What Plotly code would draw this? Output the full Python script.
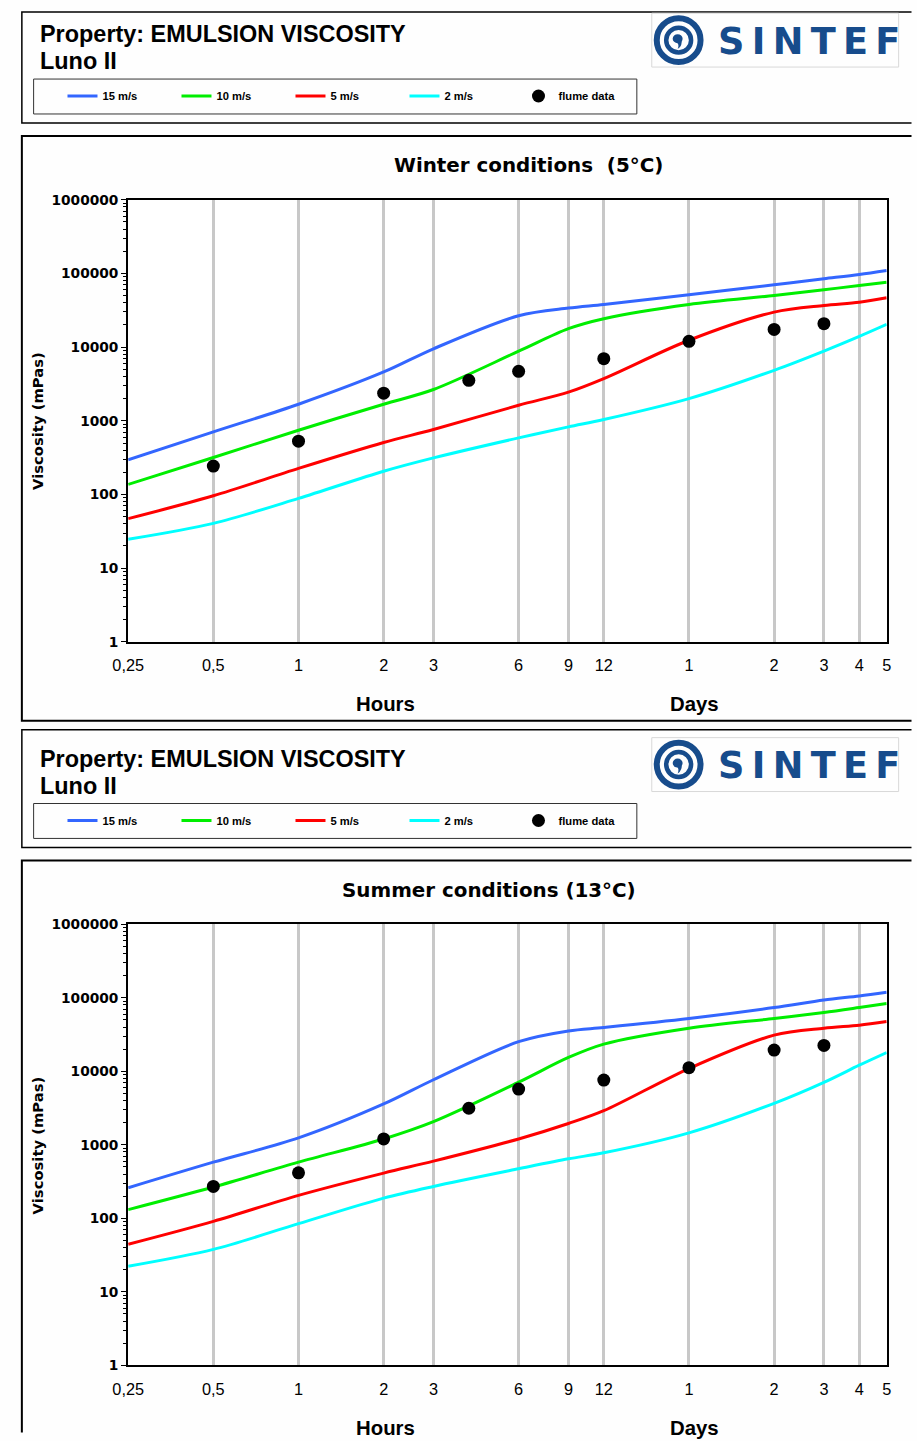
import plotly.graph_objects as go

W, H = 917, 1441

# ---------------- data ----------------
hours = [0.25, 0.5, 1, 2, 3, 6, 9, 12, 24, 48, 72, 96, 120]
flume_hours = [0.5, 1, 2, 4, 6, 12, 24, 48, 72]

winter_15 = [295, 707, 1680, 4600, 9500, 26700, 33900, 38000, 51400, 70300, 84800, 96900, 110000]
winter_10 = [137, 318, 746, 1680, 2660, 8800, 17800, 24300, 38000, 50300, 60100, 68700, 76200]
winter_5 = [47, 96, 226, 508, 762, 1627, 2450, 3740, 12400, 29900, 36800, 40800, 46900]
winter_2 = [24.7, 40.6, 88.5, 207, 314, 587, 827, 1040, 2000, 4850, 8850, 14000, 20400]
winter_flume = [243, 529, 2370, 3550, 4700, 6980, 12000, 17400, 20800]

summer_15 = [260, 580, 1240, 3590, 7670, 25300, 35400, 39400, 52200, 73600, 93300, 106000, 119000]
summer_10 = [131, 266, 580, 1200, 2065, 7100, 15400, 23400, 38500, 52200, 63000, 73600, 83400]
summer_5 = [44.3, 90.8, 205, 412, 599, 1200, 1950, 2910, 10900, 31000, 38500, 42400, 47500]
summer_2 = [22.3, 37.8, 84.5, 188, 271, 471, 644, 777, 1450, 3660, 7070, 12100, 18000]
summer_flume = [271, 415, 1200, 3140, 5730, 7600, 11200, 19400, 22500]

series_names = ["15 m/s", "10 m/s", "5 m/s", "2 m/s"]
series_colors = ["#3366FF", "#00EE00", "#FF0000", "#00FFFF"]

x_tickvals = [0.25, 0.5, 1, 2, 3, 6, 9, 12, 24, 48, 72, 96, 120]
x_ticktext = ["0,25", "0,5", "1", "2", "3", "6", "9", "12", "1", "2", "3", "4", "5"]
y_tickvals = [1, 10, 100, 1000, 10000, 100000, 1000000]
y_ticktext = ["1", "10", "100", "1000", "10000", "100000", "1000000"]
y_minor = [k * 10 ** d for d in range(6) for k in range(2, 10)]

panels = [
    dict(title="Winter conditions\u00a0\u00a0(5°C)", lines=[winter_15, winter_10, winter_5, winter_2],
         flume=winter_flume, off=0, title_x=528),
    dict(title="Summer conditions (13°C)", lines=[summer_15, summer_10, summer_5, summer_2],
         flume=summer_flume, off=726, title_x=488),
]

# layout helpers: target pixel positions -> paper fractions (compensating the
# small scale/offset seen in the rendered page)
SX, OX, SY, OY = 0.9816, 13.3, 0.991, 6.8
FS = 1 / SX


def qx(x):
    return min(max((x - OX) / SX / W, 0.0), 1.0)


def qy(y):
    return min(max(1 - (y - OY) / SY / H, 0.0), 1.0)


def rx(x):
    return x / W


def ry(y):
    return 1 - y / H


def open_box(y0, y1, bottom=True, top_raw=False, bottom_raw=False):
    ytop = ry(y0) if top_raw else qy(y0)
    ybot = ry(y1) if bottom_raw else qy(y1)
    path = f"M {rx(916.5)},{ytop} L {rx(6)},{ytop} L {rx(6)},{ybot}"
    if bottom:
        path += f" L {rx(916.5)},{ybot}"
    return path


fig = go.Figure()
shapes = []
annotations = []

BOLD = "Liberation Sans"
TAHOMA = "DejaVu Sans"
LOGO_BLUE = "#174C8C"

for i, p in enumerate(panels):
    off = p["off"]
    xa = "x" if i == 0 else "x2"
    ya = "y" if i == 0 else "y2"
    leg = "legend" if i == 0 else "legend2"
    for name, col, vals in zip(series_names, series_colors, p["lines"]):
        fig.add_trace(go.Scatter(
            x=hours, y=vals, mode="lines", name=name,
            line=dict(color=col, width=3, shape="spline", smoothing=0.9),
            xaxis=xa, yaxis=ya, legend=leg, hoverinfo="skip"))
    fig.add_trace(go.Scatter(
        x=flume_hours, y=p["flume"], mode="markers", name="flume data",
        marker=dict(color="black", size=13),
        xaxis=xa, yaxis=ya, legend=leg, hoverinfo="skip"))

    # header box
    shapes.append(dict(type="path", xref="paper", yref="paper",
                       path=open_box(4 + off, 122 + off, top_raw=(i == 0)),
                       line=dict(color="black", width=1.5)))
    # legend box
    shapes.append(dict(type="rect", xref="paper", yref="paper",
                       x0=qx(31), x1=qx(637), y0=qy(78 + off), y1=qy(113 + off),
                       line=dict(color="#333333", width=1)))
    # logo frame
    shapes.append(dict(type="rect", xref="paper", yref="paper",
                       x0=qx(652), x1=qx(900), y0=qy(12 + off), y1=qy(66 + off),
                       line=dict(color="#d8d8d8", width=1)))
    # logo symbol
    cx, cy = 679, 39 + off
    shapes.append(dict(type="circle", xref="paper", yref="paper",
                       x0=qx(cx - 22), x1=qx(cx + 22), y0=qy(cy - 22), y1=qy(cy + 22),
                       line=dict(color=LOGO_BLUE, width=6)))
    shapes.append(dict(type="circle", xref="paper", yref="paper",
                       x0=qx(cx - 12.5), x1=qx(cx + 12.5), y0=qy(cy - 12.5), y1=qy(cy + 12.5),
                       line=dict(color=LOGO_BLUE, width=4.5)))
    shapes.append(dict(type="circle", xref="paper", yref="paper",
                       x0=qx(cx - 6), x1=qx(cx + 4), y0=qy(cy - 6), y1=qy(cy + 3),
                       fillcolor=LOGO_BLUE, line=dict(color=LOGO_BLUE, width=0)))
    shapes.append(dict(type="path", xref="paper", yref="paper",
                       path=f"M {qx(cx+3)},{qy(cy-1)} Q {qx(cx+4)},{qy(cy+6)} {qx(cx-1)},{qy(cy+9)} "
                            f"Q {qx(cx+1)},{qy(cy+4)} {qx(cx-2)},{qy(cy+2)} Z",
                       fillcolor=LOGO_BLUE, line=dict(color=LOGO_BLUE, width=0)))
    annotations.append(dict(xref="paper", yref="paper", x=qx(810), y=qy(40 + off),
                            text="<b>S\u2009I\u2009N\u2009T\u2009E\u2009F</b>", showarrow=False,
                            xanchor="center", yanchor="middle",
                            font=dict(family="DejaVu Sans", size=36 * FS, color=LOGO_BLUE)))
    # header text
    annotations.append(dict(xref="paper", yref="paper", x=qx(35), y=qy(33 + off),
                            text="<b>Property: EMULSION VISCOSITY</b>", showarrow=False,
                            xanchor="left", yanchor="middle",
                            font=dict(family=BOLD, size=23 * FS, color="black")))
    annotations.append(dict(xref="paper", yref="paper", x=qx(35), y=qy(60 + off),
                            text="<b>Luno II</b>", showarrow=False,
                            xanchor="left", yanchor="middle",
                            font=dict(family=BOLD, size=23 * FS, color="black")))
    # chart box
    if i == 0:
        shapes.append(dict(type="path", xref="paper", yref="paper",
                           path=open_box(135 + off, 721 + off),
                           line=dict(color="black", width=2)))
    else:
        shapes.append(dict(type="path", xref="paper", yref="paper",
                           path=open_box(135 + off, 1440.5, bottom=False, bottom_raw=True),
                           line=dict(color="black", width=2)))
    # chart title
    annotations.append(dict(xref="paper", yref="paper", x=qx(p["title_x"]), y=qy(165 + off),
                            text="<b>" + p["title"] + "</b>", showarrow=False,
                            xanchor="center", yanchor="middle",
                            font=dict(family=TAHOMA, size=19.5 * FS, color="black")))
    annotations.append(dict(xref="paper", yref="paper", x=qx(35), y=qy(421 + off),
                            text="<b>Viscosity (mPas)</b>", showarrow=False, textangle=-90,
                            xanchor="center", yanchor="middle",
                            font=dict(family=TAHOMA, size=14.5 * FS, color="black")))
    annotations.append(dict(xref="paper", yref="paper", x=qx(385), y=qy(704 + off),
                            text="<b>Hours</b>", showarrow=False,
                            xanchor="center", yanchor="middle",
                            font=dict(family=BOLD, size=20 * FS, color="black")))
    annotations.append(dict(xref="paper", yref="paper", x=qx(695), y=qy(704 + off),
                            text="<b>Days</b>", showarrow=False,
                            xanchor="center", yanchor="middle",
                            font=dict(family=BOLD, size=20 * FS, color="black")))

xaxis_common = dict(
    type="log", range=[-0.60206, 2.07918],
    tickmode="array", tickvals=x_tickvals, ticktext=x_ticktext,
    showgrid=True, gridcolor="#c8c8c8", gridwidth=2.5,
    ticks="outside", ticklen=8, tickcolor="rgba(0,0,0,0)",
    tickfont=dict(family="Liberation Sans Narrow, Liberation Sans", size=16 * FS, color="black"),
    showline=True, linecolor="black", linewidth=2, mirror=True,
    zeroline=False, domain=[qx(126), qx(888)], fixedrange=True,
)
yaxis_common = dict(
    type="log", range=[0, 6],
    tickmode="array", tickvals=y_tickvals, ticktext=y_ticktext,
    showgrid=False, ticks="outside", ticklen=5, tickcolor="black", tickwidth=1,
    minor=dict(tickmode="array", tickvals=y_minor, ticks="outside", ticklen=3,
               tickcolor="black", tickwidth=1, showgrid=False),
    tickfont=dict(family=TAHOMA, size=13.5 * FS, color="black", weight="bold"),
    showline=True, linecolor="black", linewidth=2, mirror=True,
    zeroline=False, fixedrange=True,
)

legend_common = dict(
    orientation="h", xanchor="left", yanchor="middle",
    entrywidth=69, entrywidthmode="pixels", itemwidth=30,
    font=dict(family=BOLD, size=11 * FS, color="black", weight="bold"),
    bgcolor="rgba(0,0,0,0)", borderwidth=0, traceorder="normal",
    itemclick=False, itemdoubleclick=False,
)

fig.update_layout(
    width=W, height=H, margin=dict(l=0, r=0, t=0, b=0),
    paper_bgcolor="#fefefe", plot_bgcolor="white",
    showlegend=True,
    xaxis=dict(xaxis_common, anchor="y"),
    yaxis=dict(yaxis_common, anchor="x", domain=[qy(642), qy(199)]),
    xaxis2=dict(xaxis_common, anchor="y2"),
    yaxis2=dict(yaxis_common, anchor="x2", domain=[qy(1367), qy(925)]),
    legend=dict(legend_common, x=qx(60), y=qy(95)),
    legend2=dict(legend_common, x=qx(60), y=qy(95 + 726)),
    shapes=shapes,
    annotations=annotations,
)

fig.write_html(
    "out.html",
    config={"displayModeBar": False},
    post_script=(
        "document.documentElement.style.margin='0';document.body.style.margin='0';"
        "document.body.style.background='#ffffff';document.documentElement.style.background='#ffffff';"
    ),
)
